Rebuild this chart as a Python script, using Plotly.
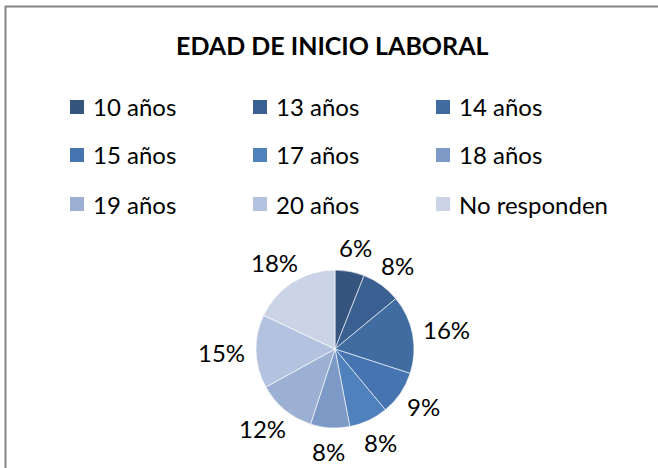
import math
import plotly.graph_objects as go

labels = ["10 años", "13 años", "14 años", "15 años", "17 años", "18 años", "19 años", "20 años", "No responden"]
values = [6, 8, 16, 9, 8, 8, 12, 15, 18]
colors = ["#35557F", "#3A5F91", "#416CA1", "#4674B0", "#4F81BD", "#7D9AC7", "#9CB0D3", "#B3C2DE", "#CBD4E6"]
title_text = "EDAD DE INICIO LABORAL"

W, H = 658, 468
FONT = "Lato, Carlito, Calibri, sans-serif"

cx, cy, r = 335, 349, 79

fig = go.Figure(go.Pie(
    labels=labels,
    values=values,
    sort=False,
    direction="clockwise",
    rotation=0,
    marker=dict(colors=colors, line=dict(color="white", width=0.6)),
    textinfo="none",
    domain=dict(x=[(cx - r) / W, (cx + r) / W], y=[(H - cy - r) / H, (H - cy + r) / H]),
    showlegend=False,
    hoverinfo="label+percent",
))

shapes = [dict(type="rect", xref="paper", yref="paper", x0=5.5 / W, y0=-0.05, x1=1.05, y1=1 - 6.5 / H,
               line=dict(color="#868686", width=2), fillcolor="rgba(0,0,0,0)")]
annotations = [dict(text="<b>" + title_text + "</b>", x=333 / W, y=1 - 45 / H, xref="paper", yref="paper",
                    showarrow=False, font=dict(family=FONT, size=25, color="black"),
                    xanchor="center", yanchor="middle")]

# legend (manual, Excel-like grid)
col_x = [70, 253, 436]
row_y = [107, 155, 204]
for i, (lab, col) in enumerate(zip(labels, colors)):
    x0 = col_x[i % 3]
    yc = row_y[i // 3]
    shapes.append(dict(type="rect", xref="paper", yref="paper",
                       x0=x0 / W, x1=(x0 + 14) / W, y0=1 - (yc + 7) / H, y1=1 - (yc - 7) / H,
                       fillcolor=col, line=dict(width=0)))
    annotations.append(dict(text=lab, x=(x0 + 21) / W, y=1 - yc / H, xref="paper", yref="paper",
                            showarrow=False, xanchor="left", yanchor="middle",
                            font=dict(family=FONT, size=24, color="black")))

# percentage labels outside the slices, placed from the values
total = sum(values)
cum = 0.0
gap = 91
for v in values:
    mid = (cum + v / 2) / total * 2 * math.pi
    cum += v
    txt = f"{round(v / total * 100)}%"
    w = 13 * len(txt) + 6
    h = 24
    s, c = math.sin(mid), math.cos(mid)
    px = cx + (gap + w / 2) * s
    py = cy - (gap + h / 2) * c
    annotations.append(dict(text=txt, x=px / W, y=1 - py / H, xref="paper", yref="paper",
                            showarrow=False, xanchor="center", yanchor="middle",
                            font=dict(family=FONT, size=24, color="black")))

fig.update_layout(
    width=W, height=H,
    margin=dict(l=0, r=0, t=0, b=0),
    paper_bgcolor="white",
    shapes=shapes,
    annotations=annotations,
)

fig.write_html("out.html", config={"displayModeBar": False},
               post_script="document.body.style.margin='0px';")
